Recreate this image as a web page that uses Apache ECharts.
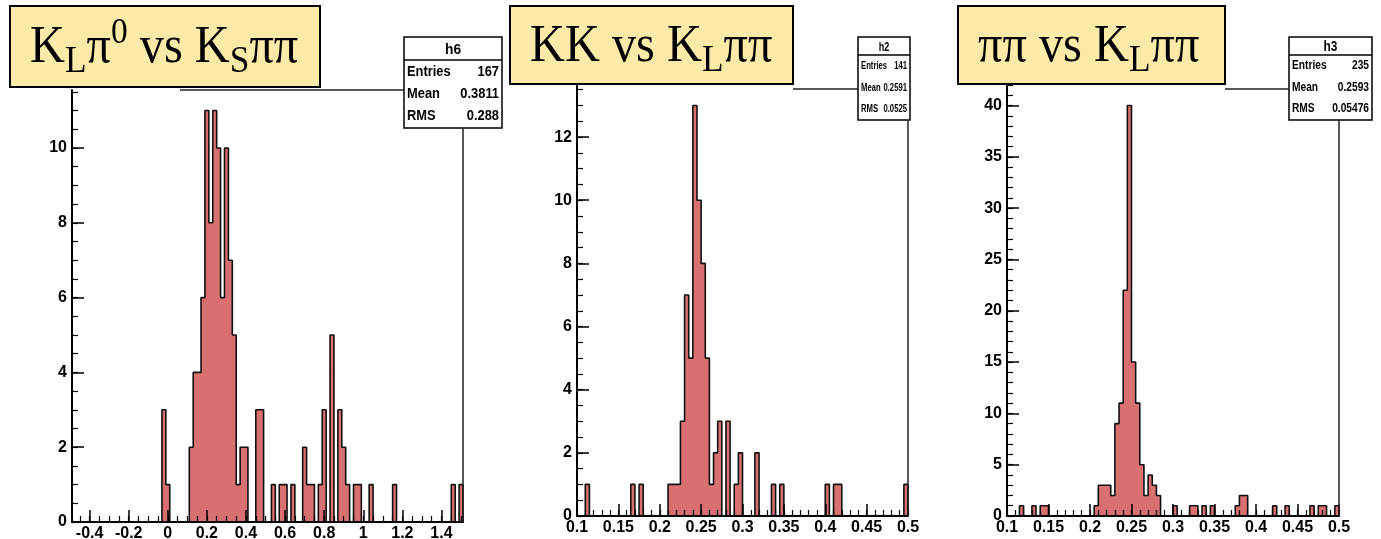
<!DOCTYPE html>
<html>
<head>
<meta charset="utf-8">
<script src="https://cdn.jsdelivr.net/npm/echarts@6/dist/echarts.min.js"></script>
<style>
  html, body { margin: 0; padding: 0; background: #fff; }
  #container { width: 1381px; height: 539px; }
</style>
</head>
<body>
<div id="container"></div>
<script>
// h6 : KL pi0 vs KS pi pi  (100 bins of 0.02)
var h6Range = [-0.49, 1.51];
var h6Counts = [
  0, 0, 0, 0, 0, 0, 0, 0, 0, 0,  0, 0, 0, 0, 0, 0, 0, 0, 0, 0,
  0, 0, 0, 3, 1, 0, 0, 0, 0, 0,  2, 4, 4, 6, 11, 8, 11, 10, 6, 10,
  7, 5, 1, 2, 2, 0, 0, 3, 3, 0,  0, 1, 0, 1, 1, 0, 1, 0, 0, 2,
  1, 1, 0, 1, 3, 0, 5, 0, 3, 2,  1, 0, 1, 1, 0, 0, 1, 0, 0, 0,
  0, 0, 1, 0, 0, 0, 0, 0, 0, 0,  0, 0, 0, 0, 0, 0, 0, 1, 0, 1
];
var h6YMax = 11.55;
var h6XTicks = [-0.4, -0.2, 0, 0.2, 0.4, 0.6, 0.8, 1, 1.2, 1.4];
var h6YTicks = [0, 2, 4, 6, 8, 10];
var h6Stats = ['h6', '167', '0.3811', '0.288'];

// h2 : KK vs KL pi pi  (80 bins of 0.005)
var h2Range = [0.1, 0.5];
var h2Counts = [
  0, 0, 1, 0, 0, 0, 0, 0, 0, 0,  0, 0, 0, 1, 0, 1, 0, 0, 0, 0,
  0, 0, 1, 1, 1, 3, 7, 5, 13, 10, 8, 5, 1, 2, 3, 0, 3, 0, 1, 2,
  0, 0, 0, 2, 0, 0, 0, 1, 0, 1,  0, 0, 0, 0, 0, 0, 0, 0, 0, 0,
  1, 0, 1, 1, 0, 0, 0, 0, 0, 0,  0, 0, 0, 0, 0, 0, 0, 0, 0, 1
];
var h2YMax = 13.65;
var h2YTicks = [0, 2, 4, 6, 8, 10, 12];
var h2Stats = ['h2', '141', '0.2591', '0.0525'];

// h3 : pi pi vs KL pi pi  (80 bins of 0.005)
var h3Range = [0.1, 0.5];
var h3Counts = [
  0, 0, 0, 1, 0, 0, 1, 0, 1, 1,  0, 0, 0, 0, 0, 0, 0, 0, 0, 0,
  0, 1, 3, 3, 3, 2, 9, 11, 22, 40, 15, 11, 5, 2, 4, 3, 2, 0, 0, 0,
  1, 0, 0, 0, 1, 1, 0, 1, 0, 1,  0, 0, 0, 0, 0, 1, 2, 2, 0, 0,
  0, 0, 0, 0, 1, 0, 0, 1, 0, 0,  0, 0, 0, 1, 0, 1, 1, 0, 0, 1
];
var h3YMax = 42;
var h3YTicks = [0, 5, 10, 15, 20, 25, 30, 35, 40];
var h3Stats = ['h3', '235', '0.2593', '0.05476'];

var xTicks23 = [0.1, 0.15, 0.2, 0.25, 0.3, 0.35, 0.4, 0.45, 0.5];

var SANS = "'Liberation Sans', Arial, sans-serif";
var SERIF = "'Liberation Serif', 'DejaVu Serif', serif";
var FILL = '#d86f70';

function steps(a, b, step) {
  var out = [];
  for (var v = a; v <= b + 1e-9; v += step) out.push(Math.round(v * 10000) / 10000);
  return out;
}

// outline + fill of a histogram as a stepped line through the bin edges
function histData(range, counts) {
  var n = counts.length, w = (range[1] - range[0]) / n;
  var pts = [[range[0], 0]];
  for (var i = 0; i < n; i++) pts.push([Math.round((range[0] + i * w) * 1e6) / 1e6, counts[i]]);
  pts.push([range[1], 0]);
  return pts;
}

var panels = [
  { grid: [72, 90, 391, 432], range: h6Range, counts: h6Counts, yMax: h6YMax,
    xTicks: h6XTicks, xMinor: steps(-0.45, 1.5, 0.05), yTicks: h6YTicks, yMinor: steps(0, 11.5, 0.5) },
  { grid: [577, 85, 331, 431], range: h2Range, counts: h2Counts, yMax: h2YMax,
    xTicks: xTicks23, xMinor: steps(0.1, 0.5, 0.01), yTicks: h2YTicks, yMinor: steps(0, 13.5, 0.5) },
  { grid: [1007, 85, 332, 431], range: h3Range, counts: h3Counts, yMax: h3YMax,
    xTicks: xTicks23, xMinor: steps(0.1, 0.5, 0.01), yTicks: h3YTicks, yMinor: steps(0, 42, 1) }
];

var grids = [], xAxes = [], yAxes = [], series = [];
panels.forEach(function (p, i) {
  grids.push({ left: p.grid[0], top: p.grid[1], width: p.grid[2], height: p.grid[3],
    containLabel: false, outerBoundsMode: 'none' });
  var labelStyle = { color: '#000', fontWeight: 'bold', fontSize: 16, fontFamily: SANS };
  xAxes.push({
    type: 'value', gridIndex: i, position: 'bottom', min: p.range[0], max: p.range[1], z: 10,
    axisLine: { show: true, onZero: false, lineStyle: { color: '#000', width: 2 } },
    axisTick: { show: true, inside: true, length: 12, customValues: p.xTicks, lineStyle: { color: '#000', width: 1.5 } },
    axisLabel: Object.assign({ customValues: p.xTicks, margin: 4 }, labelStyle),
    splitLine: { show: false }
  });
  xAxes.push({
    type: 'value', gridIndex: i, position: 'bottom', min: p.range[0], max: p.range[1], z: 10,
    axisLine: { show: false, onZero: false },
    axisTick: { show: true, inside: true, length: 6, customValues: p.xMinor, lineStyle: { color: '#000', width: 1.2 } },
    axisLabel: { show: false }, splitLine: { show: false }
  });
  yAxes.push({
    type: 'value', gridIndex: i, position: 'left', min: 0, max: p.yMax, z: 10,
    axisLine: { show: true, onZero: false, lineStyle: { color: '#000', width: 2 } },
    axisTick: { show: true, inside: true, length: 12, customValues: p.yTicks, lineStyle: { color: '#000', width: 1.5 } },
    axisLabel: Object.assign({ customValues: p.yTicks, margin: 5 }, labelStyle),
    splitLine: { show: false }
  });
  yAxes.push({
    type: 'value', gridIndex: i, position: 'left', min: 0, max: p.yMax, z: 10,
    axisLine: { show: false, onZero: false },
    axisTick: { show: true, inside: true, length: 6, customValues: p.yMinor, lineStyle: { color: '#000', width: 1.2 } },
    axisLabel: { show: false }, splitLine: { show: false }
  });
  series.push({
    type: 'line', xAxisIndex: i * 2, yAxisIndex: i * 2, step: 'end', symbol: 'none',
    data: histData(p.range, p.counts), silent: true, animation: false,
    lineStyle: { color: '#111', width: 1.6 },
    areaStyle: { color: FILL, opacity: 1 }
  });
});

function titleBox(x, y, w, h, text, tx, scaleX) {
  return {
    type: 'group', z: 100, children: [
      { type: 'rect', shape: { x: x, y: y, width: w, height: h },
        style: { fill: '#fdeaa8', stroke: '#000', lineWidth: 2 } },
      { type: 'text', x: tx, y: y + h / 2 + 2, scaleX: scaleX,
        style: { text: text, verticalAlign: 'middle', align: 'left',
          rich: {
            m: { fontSize: 52, fontFamily: SERIF, fill: '#000', lineHeight: 66 },
            sub: { fontSize: 38, fontFamily: SERIF, fill: '#000', verticalAlign: 'bottom' },
            sup: { fontSize: 36, fontFamily: SERIF, fill: '#000', verticalAlign: 'top' }
          } } }
    ]
  };
}

function statsBox(x, y, w, h, headH, rows, stats, fs, hfs, sx) {
  var labels = ['Entries', 'Mean', 'RMS'];
  var kids = [
    { type: 'rect', shape: { x: x, y: y, width: w, height: h }, style: { fill: '#fff', stroke: '#000', lineWidth: 1.5 } },
    { type: 'line', shape: { x1: x, y1: y + headH, x2: x + w, y2: y + headH }, style: { stroke: '#000', lineWidth: 1.5 } },
    { type: 'text', x: x + w / 2, y: y + headH / 2 + 1, scaleX: sx,
      style: { text: stats[0], align: 'center', verticalAlign: 'middle', fontSize: hfs, fontWeight: 'bold', fontFamily: SANS, fill: '#000' } }
  ];
  labels.forEach(function (lab, k) {
    kids.push({ type: 'text', x: x + 3, y: rows[k], scaleX: sx,
      style: { text: lab, align: 'left', verticalAlign: 'middle', fontSize: fs, fontWeight: 'bold', fontFamily: SANS, fill: '#000' } });
    kids.push({ type: 'text', x: x + w - 3, y: rows[k], scaleX: sx,
      style: { text: stats[k + 1], align: 'right', verticalAlign: 'middle', fontSize: fs, fontWeight: 'bold', fontFamily: SANS, fill: '#000' } });
  });
  return { type: 'group', z: 100, children: kids };
}

function frameLine(x1, y1, x2, y2) {
  return { type: 'line', z: 50, shape: { x1: x1, y1: y1, x2: x2, y2: y2 }, style: { stroke: '#222', lineWidth: 1.5 } };
}

var graphics = [
  frameLine(180, 90, 404, 90), frameLine(463, 128, 463, 522),
  frameLine(793, 89, 858, 89), frameLine(908, 120, 908, 516),
  frameLine(1225, 89, 1289, 89), frameLine(1339, 120, 1339, 516),
  titleBox(10, 6, 310, 81, '{m|K}{sub|L}{m|π}{sup|0}{m| vs K}{sub|S}{m|ππ}', 30, 0.93),
  titleBox(510, 6, 283, 78, '{m|KK vs K}{sub|L}{m|ππ}', 530, 0.93),
  titleBox(958, 6, 267, 78, '{m|ππ vs K}{sub|L}{m|ππ}', 978, 0.93),
  statsBox(404, 37, 98, 91, 23, [72, 94, 116], h6Stats, 14, 15, 0.92),
  statsBox(858, 37, 52, 83, 18, [66, 88, 109], h2Stats, 11, 13, 0.7),
  statsBox(1289, 37, 83, 83, 18, [66, 88, 109], h3Stats, 12, 14, 0.85)
];

var dom = document.getElementById('container');
var myChart = echarts.init(dom, null, { renderer: 'canvas' });
var option = {
  animation: false,
  backgroundColor: '#fff',
  grid: grids,
  xAxis: xAxes,
  yAxis: yAxes,
  series: series,
  graphic: graphics
};
myChart.setOption(option);
window.addEventListener('resize', myChart.resize);
</script>
</body>
</html>
